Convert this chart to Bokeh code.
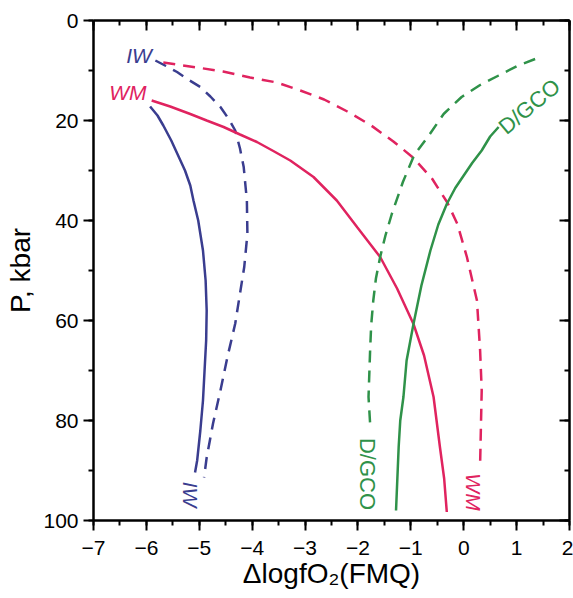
import math
from bokeh.plotting import figure
from bokeh.models import Range1d, LinearAxis, SingleIntervalTicker, CustomLabelingPolicy
from bokeh.core.properties import value
from bokeh.embed import file_html
from bokeh.resources import INLINE

# ---- data (ΔlogfO2 vs P, kbar) ----
iw_solid_x = [-5.93, -5.79, -5.68, -5.53, -5.40, -5.27, -5.17, -5.11, -5.02, -4.93, -4.88, -4.86, -4.87, -4.90, -4.93, -4.98, -5.04, -5.08]
iw_solid_p = [17.2, 19.0, 21.0, 24.0, 27.0, 30.0, 33.0, 36.0, 40.0, 46.0, 52.0, 58.0, 64.0, 70.0, 76.0, 82.0, 88.0, 90.4]

iw_dash_x = [-5.83, -5.63, -5.42, -5.21, -4.98, -4.79, -4.60, -4.45, -4.32, -4.23, -4.16, -4.10, -4.09, -4.15, -4.23, -4.32, -4.47, -4.60, -4.74, -4.86, -4.91]
iw_dash_p = [8.0, 9.1, 10.3, 11.8, 13.3, 15.2, 17.3, 19.6, 22.0, 25.6, 29.3, 36.0, 42.7, 49.3, 54.6, 60.6, 67.4, 74.0, 80.6, 87.4, 91.4]

wm_solid_x = [-5.90, -5.55, -5.17, -4.86, -4.54, -4.23, -3.91, -3.60, -3.28, -2.84, -2.40, -2.01, -1.58, -1.26, -0.95, -0.75, -0.57, -0.45, -0.37, -0.32]
wm_solid_p = [16.0, 17.2, 18.7, 20.0, 21.3, 22.8, 24.3, 26.1, 28.0, 31.3, 36.0, 41.4, 47.3, 53.6, 60.7, 67.0, 75.3, 85.3, 91.6, 98.3]

wm_dash_x = [-5.68, -5.04, -4.55, -4.04, -3.53, -3.09, -2.64, -2.20, -1.75, -1.33, -0.96, -0.60, -0.31, -0.12, 0.06, 0.25, 0.31, 0.34, 0.31]
wm_dash_p = [8.4, 9.4, 10.2, 11.4, 12.4, 14.0, 15.8, 18.2, 21.0, 24.2, 27.4, 31.6, 36.4, 40.7, 47.3, 56.0, 66.0, 74.0, 88.7]

gco_solid_x = [0.66, 0.50, 0.34, 0.16, 0.00, -0.16, -0.32, -0.48, -0.63, -0.80, -0.95, -1.08, -1.14, -1.20, -1.23, -1.28]
gco_solid_p = [21.3, 23.2, 26.0, 28.5, 31.0, 33.5, 36.7, 40.8, 46.0, 53.0, 60.7, 68.0, 75.3, 80.0, 85.3, 98.0]

gco_dash_x = [1.35, 1.03, 0.66, 0.31, -0.04, -0.38, -0.64, -0.94, -1.15, -1.36, -1.48, -1.58, -1.66, -1.71, -1.75, -1.77, -1.80, -1.77]
gco_dash_p = [7.7, 9.0, 11.0, 12.9, 15.3, 18.7, 22.7, 27.0, 32.3, 38.7, 43.0, 47.3, 51.6, 56.0, 61.0, 66.0, 75.3, 80.6]

BLUE = "#3a3d8f"
RED = "#e0235f"
GREEN = "#2f9249"
FONT = "Liberation Sans"

p = figure(width=573, height=598, x_range=Range1d(-7, 2), y_range=Range1d(100, 0),
           output_backend="svg", toolbar_location=None,
           min_border_left=93, min_border_right=4, min_border_top=20, min_border_bottom=78)
p.xgrid.visible = False
p.ygrid.visible = False
p.outline_line_color = None
p.background_fill_color = "white"
p.border_fill_color = "white"

bottom = p.below[0]
left = p.left[0]

bottom.ticker = SingleIntervalTicker(interval=1, num_minor_ticks=2)
left.ticker = SingleIntervalTicker(interval=20, num_minor_ticks=2)

top = LinearAxis(ticker=SingleIntervalTicker(interval=1, num_minor_ticks=2),
                 major_label_policy=CustomLabelingPolicy(code="return []"))
right = LinearAxis(ticker=SingleIntervalTicker(interval=20, num_minor_ticks=2),
                   major_label_policy=CustomLabelingPolicy(code="return []"))
p.add_layout(top, "above")
p.add_layout(right, "right")

for ax in [bottom, left]:
    ax.major_tick_out = 10
    ax.major_tick_in = 0
    ax.minor_tick_out = 5
    ax.minor_tick_in = 0
    ax.major_label_text_font = FONT
    ax.major_label_text_font_size = "21px"
    ax.major_label_text_color = "black"
    ax.axis_label_text_font = FONT
    ax.axis_label_text_font_size = "28px"
    ax.axis_label_text_font_style = "normal"
    ax.axis_label_text_color = "black"

bottom.major_label_standoff = 10
bottom.axis_label = "ΔlogfO₂(FMQ)"
bottom.axis_label_standoff = 0
left.major_label_standoff = 5
left.axis_label = "P, kbar"
left.axis_label_standoff = 4

for ax in [top, right]:
    ax.major_tick_out = 0
    ax.major_tick_in = 10
    ax.minor_tick_out = 0
    ax.minor_tick_in = 5
    ax.major_label_text_font_size = "1px"
top.major_label_standoff = -4
right.major_label_standoff = -12

for ax in [bottom, left, top, right]:
    ax.axis_line_width = 2.5
    ax.axis_line_color = "black"
    ax.major_tick_line_width = 2
    ax.minor_tick_line_width = 2
    ax.major_tick_line_color = "black"
    ax.minor_tick_line_color = "black"

LW = 2.5
DASH = "12 8"
p.line(iw_solid_x, iw_solid_p, line_color=BLUE, line_width=LW)
p.line(iw_dash_x, iw_dash_p, line_color=BLUE, line_width=LW, line_dash=DASH)
p.line(wm_solid_x, wm_solid_p, line_color=RED, line_width=LW)
p.line(wm_dash_x, wm_dash_p, line_color=RED, line_width=LW, line_dash=DASH)
p.line(gco_solid_x, gco_solid_p, line_color=GREEN, line_width=LW)
p.line(gco_dash_x, gco_dash_p, line_color=GREEN, line_width=LW, line_dash=DASH)


def label(x, y, t, color, angle=0.0, italic=False, size="21px"):
    p.text(x=[x], y=[y], text=[t], angle=angle, text_color=color,
           text_font=value(FONT), text_font_size=size,
           text_font_style="italic" if italic else "normal",
           text_align="center", text_baseline="middle")


label(-6.14, 6.9, "IW", BLUE, italic=True)
label(-6.35, 14.3, "WM", RED, italic=True)
label(-5.17, 94.8, "IW", BLUE, angle=-math.pi / 2, italic=True)
label(0.18, 94.3, "WM", RED, angle=-math.pi / 2, italic=True)
label(-1.81, 90.7, "D/GCO", GREEN, angle=-math.pi / 2, size="22px")
label(1.24, 17.2, "D/GCO", GREEN, angle=math.radians(40), size="22px")

open("out.html", "w").write(file_html(p, INLINE))
